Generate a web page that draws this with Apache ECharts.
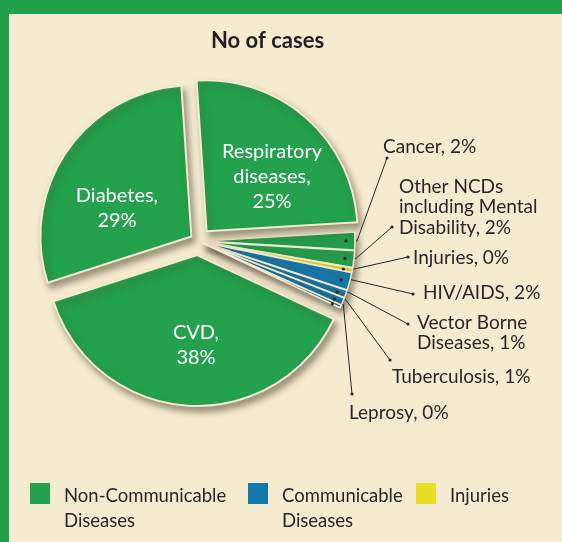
<!DOCTYPE html>
<html><head><meta charset="utf-8">
<script src="https://cdn.jsdelivr.net/npm/echarts@6/dist/echarts.min.js"></script>
<style>html,body{margin:0;padding:0;background:#F5EBD1}#c{width:562px;height:542px}</style>
</head><body><div id="c"></div>
<script>
// ---- data ----
const categories = ['Respiratory\ndiseases', 'Cancer', 'Other NCDs\nincluding Mental\nDisability', 'Injuries', 'HIV/AIDS', 'Vector Borne\nDiseases', 'Tuberculosis', 'Leprosy', 'CVD', 'Diabetes'];
const shares = [25.1, 1.9, 1.8, 0.45, 1.9, 0.8, 0.8, 0.3, 38.05, 28.9];
const groupOf = ['ncd', 'ncd', 'ncd', 'inj', 'cd', 'cd', 'cd', 'cd', 'ncd', 'ncd'];
const groupKeys = ['ncd', 'cd', 'inj'];
const groupNames = ['Non-Communicable Diseases', 'Communicable Diseases', 'Injuries'];

// ---- styling / layout ----
const GREEN = '#23A14C', BLUE = '#1479AA', YELLOW = '#EADD26', CREAM = '#F5EBD1', INK = '#2a2626';
const groupColor = { ncd: GREEN, cd: BLUE, inj: YELLOW };
const FONT = 'Lato';
const CENTER = [198, 241], RADIUS = [0, 151], START = 93.8;
// explode distance for each slice (drawn as separate layers, in this order)
const explodeLayers = [
  { slices: [8], offset: 14, border: 2 },                    // CVD
  { slices: [1, 2, 3, 4, 5, 6, 7], offset: 6, border: 1.5 }, // small slices
  { slices: [0], offset: 13, border: 2 },                    // Respiratory
  { slices: [9], offset: 8, border: 2 }                      // Diabetes
];
// label anchor positions (left-middle for outside labels, center for inside labels)
const labelPos = [[272, 177], [383, 147], [399, 207], [413, 258], [423, 293], [417, 333], [392, 377], [349, 413], [196, 345], [117, 208]];
const lineEnd = [null, [387, 158], [392, 227], [408, 257], [413, 294], [408, 324], [390, 360], [352, 394], null, null];

const chart = echarts.init(document.getElementById('c'), null, { renderer: 'canvas' });

const isBig = shares.map(v => v > 10);
const innerDots = [];

function sliceSeries(layer) {
  return {
    type: 'pie', center: CENTER, radius: RADIUS, startAngle: START, clockwise: true,
    selectedMode: 'multiple', selectedOffset: layer.offset, silent: true,
    emphasis: { disabled: true },
    label: { show: false }, labelLine: { show: false },
    data: categories.map((n, i) => {
      const mine = layer.slices.indexOf(i) >= 0;
      return {
        name: n, value: shares[i], selected: mine,
        itemStyle: mine
          ? { color: groupColor[groupOf[i]], borderColor: CREAM, borderWidth: layer.border,
              shadowBlur: 6, shadowOffsetX: 3, shadowOffsetY: 5, shadowColor: 'rgba(70,60,40,0.5)' }
          : { color: 'transparent', borderWidth: 0, shadowBlur: 0, shadowColor: 'transparent' }
      };
    })
  };
}

const labelSeries = {
  type: 'pie', center: CENTER, radius: RADIUS, startAngle: START, clockwise: true,
  silent: true, avoidLabelOverlap: false, selectedMode: false,
  emphasis: { disabled: true },
  itemStyle: { color: 'transparent', borderWidth: 0 },
  label: {
    fontFamily: FONT,
    formatter: p => p.name + ',' + (p.value > 10 ? '\n' : ' ') + Math.round(p.percent) + '%'
  },
  labelLine: { lineStyle: { color: INK, width: 1 } },
  labelLayout: params => {
    const i = params.dataIndex;
    const pos = labelPos[i];
    if (!lineEnd[i]) {
      return { x: pos[0], y: pos[1], align: 'center', verticalAlign: 'middle' };
    }
    const p0 = params.labelLinePoints ? params.labelLinePoints[0] : [pos[0], pos[1]];
    const start = [p0[0] - 3, p0[1]];
    innerDots[i] = start;
    return {
      x: pos[0], y: pos[1], align: 'left', verticalAlign: 'middle',
      labelLinePoints: [start, [p0[0] + 8, p0[1]], lineEnd[i]]
    };
  },
  data: categories.map((n, i) => ({
    name: n, value: shares[i],
    label: isBig[i]
      ? { position: 'inside', color: '#ffffff', fontSize: 20, lineHeight: 25, align: 'center' }
      : { position: 'outside', color: INK, fontSize: 19, lineHeight: 20.5, align: 'left' },
    labelLine: { show: !isBig[i] }
  }))
};

// legend square sits on the first text line: the icon path is a 20x21 square plus an
// invisible speck that stretches the item box so the text block centres lower
const legends = groupNames.map((g, k) => {
  const twoLine = g.indexOf(' ') > 0;
  const h = twoLine ? 52 : 27;
  return {
    data: [{ name: g, icon: 'path://M0,0H20V21H0Z M0,' + h + 'H0.01V' + (h + 0.01) + 'H0Z' }],
    left: [30, 248, 416][k],
    top: 483,
    padding: 0,
    itemWidth: 20,
    itemHeight: h + 0.01,
    selectedMode: false,
    formatter: name => name.replace(' Diseases', '\nDiseases'),
    textStyle: { fontFamily: FONT, fontSize: 18.5, lineHeight: 25, color: INK, padding: [0, 0, 0, 9] }
  };
});

const legendSeries = groupNames.map((g, k) => ({
  type: 'pie', name: g, data: [], showEmptyCircle: false, itemStyle: { color: groupColor[groupKeys[k]] }
}));

const frame = [
  { type: 'rect', left: 0, top: 0, shape: { width: 562, height: 14 }, style: { fill: '#22A14B' } },
  { type: 'rect', left: 0, top: 0, shape: { width: 9, height: 542 }, style: { fill: '#22A14B' } }
];

chart.setOption({
  backgroundColor: CREAM,
  animation: false,
  textStyle: { fontFamily: FONT },
  title: {
    text: 'No of cases', left: 211, top: 30, padding: 0,
    textStyle: { fontFamily: FONT, fontWeight: 'bold', fontSize: 22, color: '#231f20' }
  },
  graphic: frame,
  legend: legends,
  series: explodeLayers.map(sliceSeries).concat([labelSeries]).concat(legendSeries)
});

// small dots at both ends of every leader line
const dots = [];
lineEnd.forEach((e, i) => {
  if (!e) return;
  [e, innerDots[i]].forEach(pt => {
    if (pt) dots.push({ type: 'circle', shape: { cx: pt[0], cy: pt[1], r: 1.6 }, style: { fill: INK }, silent: true, z: 100 });
  });
});
chart.setOption({ graphic: frame.concat(dots) });
</script>
</body></html>
